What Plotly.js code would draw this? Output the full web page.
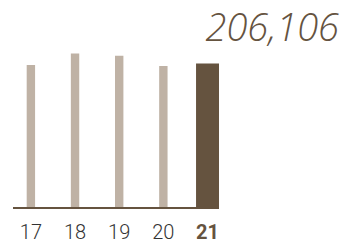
<!DOCTYPE html>
<html><head><meta charset="utf-8">
<script src="https://cdn.plot.ly/plotly-3.0.1.min.js"></script>
<style>html,body{margin:0;padding:0;background:#fff}#c{width:345px;height:245px}</style>
</head><body><div id="c"></div>
<script>
const categories = ['17','18','19','20','21'];
const values = [204200, 220500, 217200, 202800, 206106];
const tickLabels = ['17','18','19','20','<span style="color:#65533f;font-weight:700">21</span>'];
const headline = '206,106';

const light = '#bfb2a5', dark = '#65533f';
const colors = categories.map((c,i)=> i===categories.length-1 ? dark : light);
const widths = categories.map((c,i)=> i===categories.length-1 ? 0.52 : 0.19);

Plotly.newPlot('c', [{
  type:'bar', x:categories.map((c,i)=>i), y:values,
  marker:{color:colors, line:{width:0}}, width:widths,
  hoverinfo:'none'
}], {
  width:345, height:245,
  margin:{l:13, r:126, t:40, b:38},
  paper_bgcolor:'#fff', plot_bgcolor:'#fff',
  showlegend:false,
  title:{text:'<i>'+headline+'</i>', xref:'container', yref:'container',
    x:339/345, xanchor:'right', y:1-28/245, yanchor:'middle',
    font:{family:'"Open Sans", sans-serif', size:38, color:dark, weight:300}},
  xaxis:{range:[-0.405,4.26], tickmode:'array', tickvals:categories.map((c,i)=>i), ticktext:tickLabels,
    showgrid:false, zeroline:false, showline:true, linecolor:dark, linewidth:2,
    ticks:'', ticklabelstandoff:6,
    tickfont:{family:'Roboto, sans-serif', size:20, color:'#333', weight:300}, fixedrange:true},
  yaxis:{range:[0,240000], visible:false, showgrid:false, zeroline:false, fixedrange:true}
}, {staticPlot:true, displayModeBar:false});
</script></body></html>
